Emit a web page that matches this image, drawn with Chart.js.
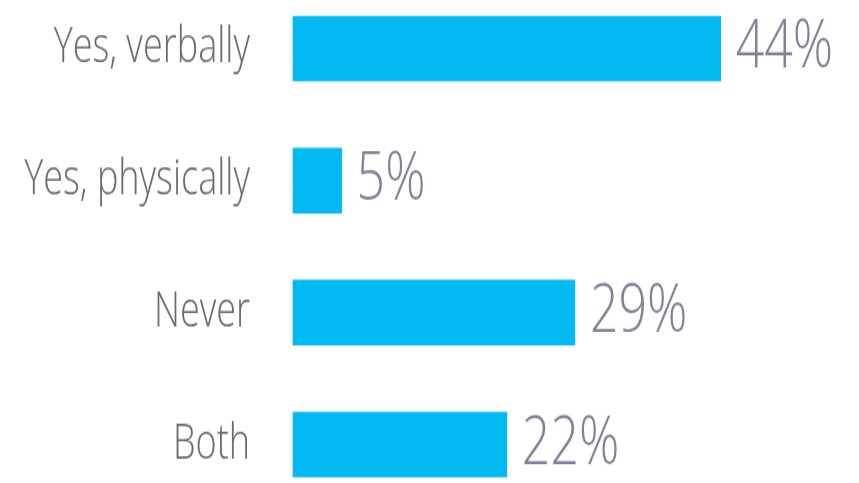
<!DOCTYPE html>
<html>
<head>
<meta charset="utf-8">
<script src="https://cdn.jsdelivr.net/npm/chart.js@4/dist/chart.umd.min.js"></script>
<style>
  html { overflow: hidden; }
  body { margin: 0; padding: 0; background: #fff; width: 859px; height: 483px; }
  /* the reference is squashed sideways, so draw short and stretch vertically */
  #wrap { width: 859px; height: 358px; transform: scaleY(1.3492); transform-origin: 0 0; }
  #chart { width: 859px; height: 358px; display: block; }
</style>
</head>
<body>
<div id="wrap"><canvas id="chart" width="859" height="358"></canvas></div>
<script>
const categories = ['Yes, verbally', 'Yes, physically', 'Never', 'Both'];
const shares = [44, 5, 29, 22];

const valueLabels = {
  id: 'valueLabels',
  afterDatasetsDraw(chart) {
    const ctx = chart.ctx;
    const meta = chart.getDatasetMeta(0);
    ctx.save();
    ctx.font = '300 50px "Open Sans", sans-serif';
    ctx.fillStyle = '#7f8196';
    ctx.textAlign = 'left';
    ctx.textBaseline = 'middle';
    meta.data.forEach((bar, i) => {
      ctx.fillText(shares[i] + '%', bar.x + 15, bar.y);
    });
    ctx.restore();
  },
};

new Chart(document.getElementById('chart'), {
  type: 'bar',
  data: {
    labels: categories,
    datasets: [{
      data: shares,
      backgroundColor: '#03b9f1',
      barThickness: 48,
      clip: false,
    }],
  },
  options: {
    indexAxis: 'y',
    responsive: false,
    animation: false,
    layout: { padding: { top: 36, bottom: 28.5, right: 80, left: 0 } },
    plugins: { legend: { display: false }, tooltip: { enabled: false } },
    scales: {
      x: { display: false, min: 0, max: 50 },
      y: {
        offset: false,
        grid: { display: false, drawTicks: false },
        border: { display: false },
        ticks: {
          autoSkip: false,
          padding: 43,
          color: '#6b6b6b',
          font: { family: '"Open Sans", sans-serif', size: 36, weight: 300 },
        },
        afterFit(scale) {
          scale.width = 293;
          scale.paddingTop = 0;
          scale.paddingBottom = 0;
        },
      },
    },
  },
  plugins: [valueLabels],
});
</script>
</body>
</html>
